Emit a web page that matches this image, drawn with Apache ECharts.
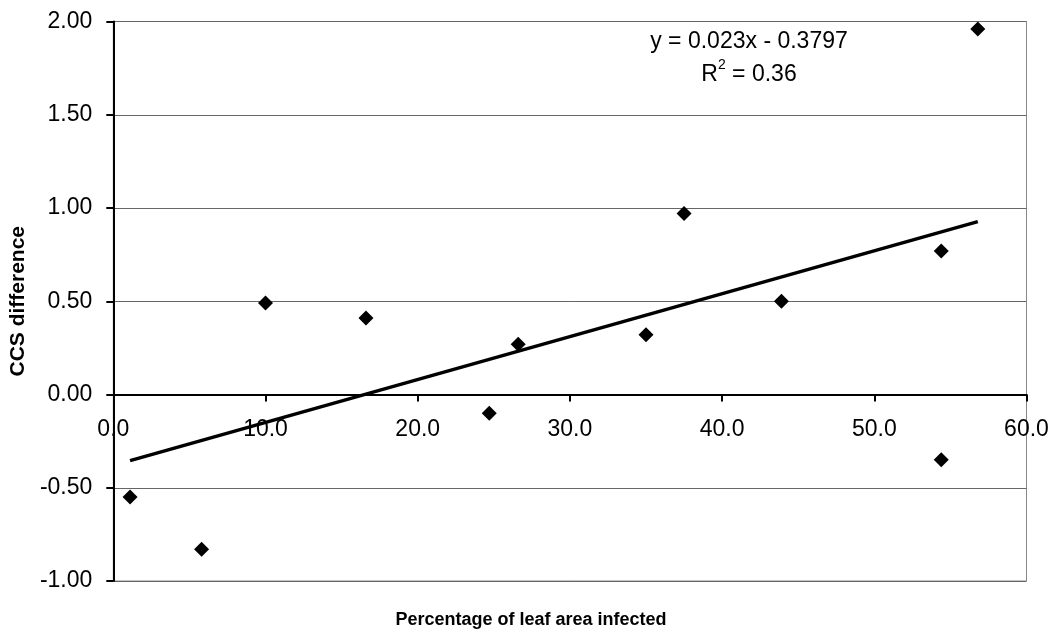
<!DOCTYPE html>
<html>
<head>
<meta charset="utf-8">
<script src="https://cdn.jsdelivr.net/npm/echarts@6/dist/echarts.min.js"></script>
<style>
  html, body { margin: 0; padding: 0; background: #fff; }
  #chart { width: 1053px; height: 631px; }
</style>
</head>
<body>
<div id="chart"></div>
<script>
// values
const percentInfected = [1.1, 5.8, 10.0, 16.6, 24.7, 26.6, 35.0, 37.5, 43.9, 54.4, 54.4, 56.8];
const ccsDifference = [-0.55, -0.83, 0.49, 0.41, -0.10, 0.27, 0.32, 0.97, 0.50, 0.77, -0.35, 1.96];
const trendSlope = 0.023;
const trendIntercept = -0.3797;
const trendR2 = 0.36;
const xRange = [0, 60, 10];     // min, max, step
const yRange = [-1, 2, 0.5];

const font = 'Liberation Sans, Arial, sans-serif';

const points = percentInfected.map((x, i) => [x, ccsDifference[i]]);
const xLo = Math.min(...percentInfected);
const xHi = Math.max(...percentInfected);
const trendPoints = [
  [xLo, trendSlope * xLo + trendIntercept],
  [xHi, trendSlope * xHi + trendIntercept]
];

const gridTop = 21.5, gridBottom = 50;
const plotH = 631 - gridTop - gridBottom;
// x axis sits on y = 0, shift it up from the bottom of the grid
const zeroShift = plotH * (0 - yRange[0]) / (yRange[1] - yRange[0]);

const chart = echarts.init(document.getElementById('chart'));

chart.setOption({
  backgroundColor: '#fff',
  animation: false,
  grid: {
    left: 113, right: 26.5, top: gridTop, bottom: gridBottom,
    show: true, borderColor: '#888', borderWidth: 1
  },
  xAxis: {
    type: 'value',
    min: xRange[0], max: xRange[1], interval: xRange[2],
    offset: -zeroShift,
    axisLine: { onZero: false, lineStyle: { color: '#000', width: 2 } },
    axisTick: { show: true, length: 7, lineStyle: { color: '#000', width: 2 } },
    axisLabel: {
      margin: 24, color: '#000', fontSize: 23, fontFamily: font,
      formatter: v => v.toFixed(1)
    },
    splitLine: { show: false }
  },
  yAxis: {
    type: 'value',
    min: yRange[0], max: yRange[1], interval: yRange[2],
    name: 'CCS difference',
    nameLocation: 'middle',
    nameGap: 78,
    nameTextStyle: { fontSize: 21, fontWeight: 'bold', fontFamily: font, color: '#000' },
    axisLine: { show: true, onZero: false, lineStyle: { color: '#000', width: 2 } },
    axisTick: { show: true, length: 7, lineStyle: { color: '#000', width: 2 } },
    axisLabel: {
      margin: 21, color: '#000', fontSize: 23, fontFamily: font,
      formatter: v => v.toFixed(2)
    },
    splitLine: { show: true, lineStyle: { color: '#666', width: 1 } }
  },
  graphic: [
    {
      type: 'text',
      style: {
        x: 531, y: 620,
        text: 'Percentage of leaf area infected',
        fill: '#000',
        font: 'bold 18px ' + font,
        textAlign: 'center',
        textVerticalAlign: 'middle'
      }
    },
    {
      type: 'text',
      style: {
        x: 749, y: 25,
        text: 'y = ' + trendSlope + 'x - ' + Math.abs(trendIntercept) + '\nR{sup|2} = ' + trendR2.toFixed(2),
        fill: '#000',
        font: '23px ' + font,
        lineHeight: 33,
        textAlign: 'center',
        textVerticalAlign: 'top',
        rich: {
          sup: { fontSize: 14, fontFamily: font, verticalAlign: 'top', lineHeight: 33 }
        }
      }
    }
  ],
  series: [
    {
      type: 'line',
      data: trendPoints,
      showSymbol: false,
      lineStyle: { color: '#000', width: 3.5 },
      z: 2
    },
    {
      type: 'scatter',
      data: points,
      symbol: 'diamond',
      symbolSize: 15,
      itemStyle: { color: '#000', opacity: 1 },
      z: 3
    }
  ]
});
</script>
</body>
</html>
